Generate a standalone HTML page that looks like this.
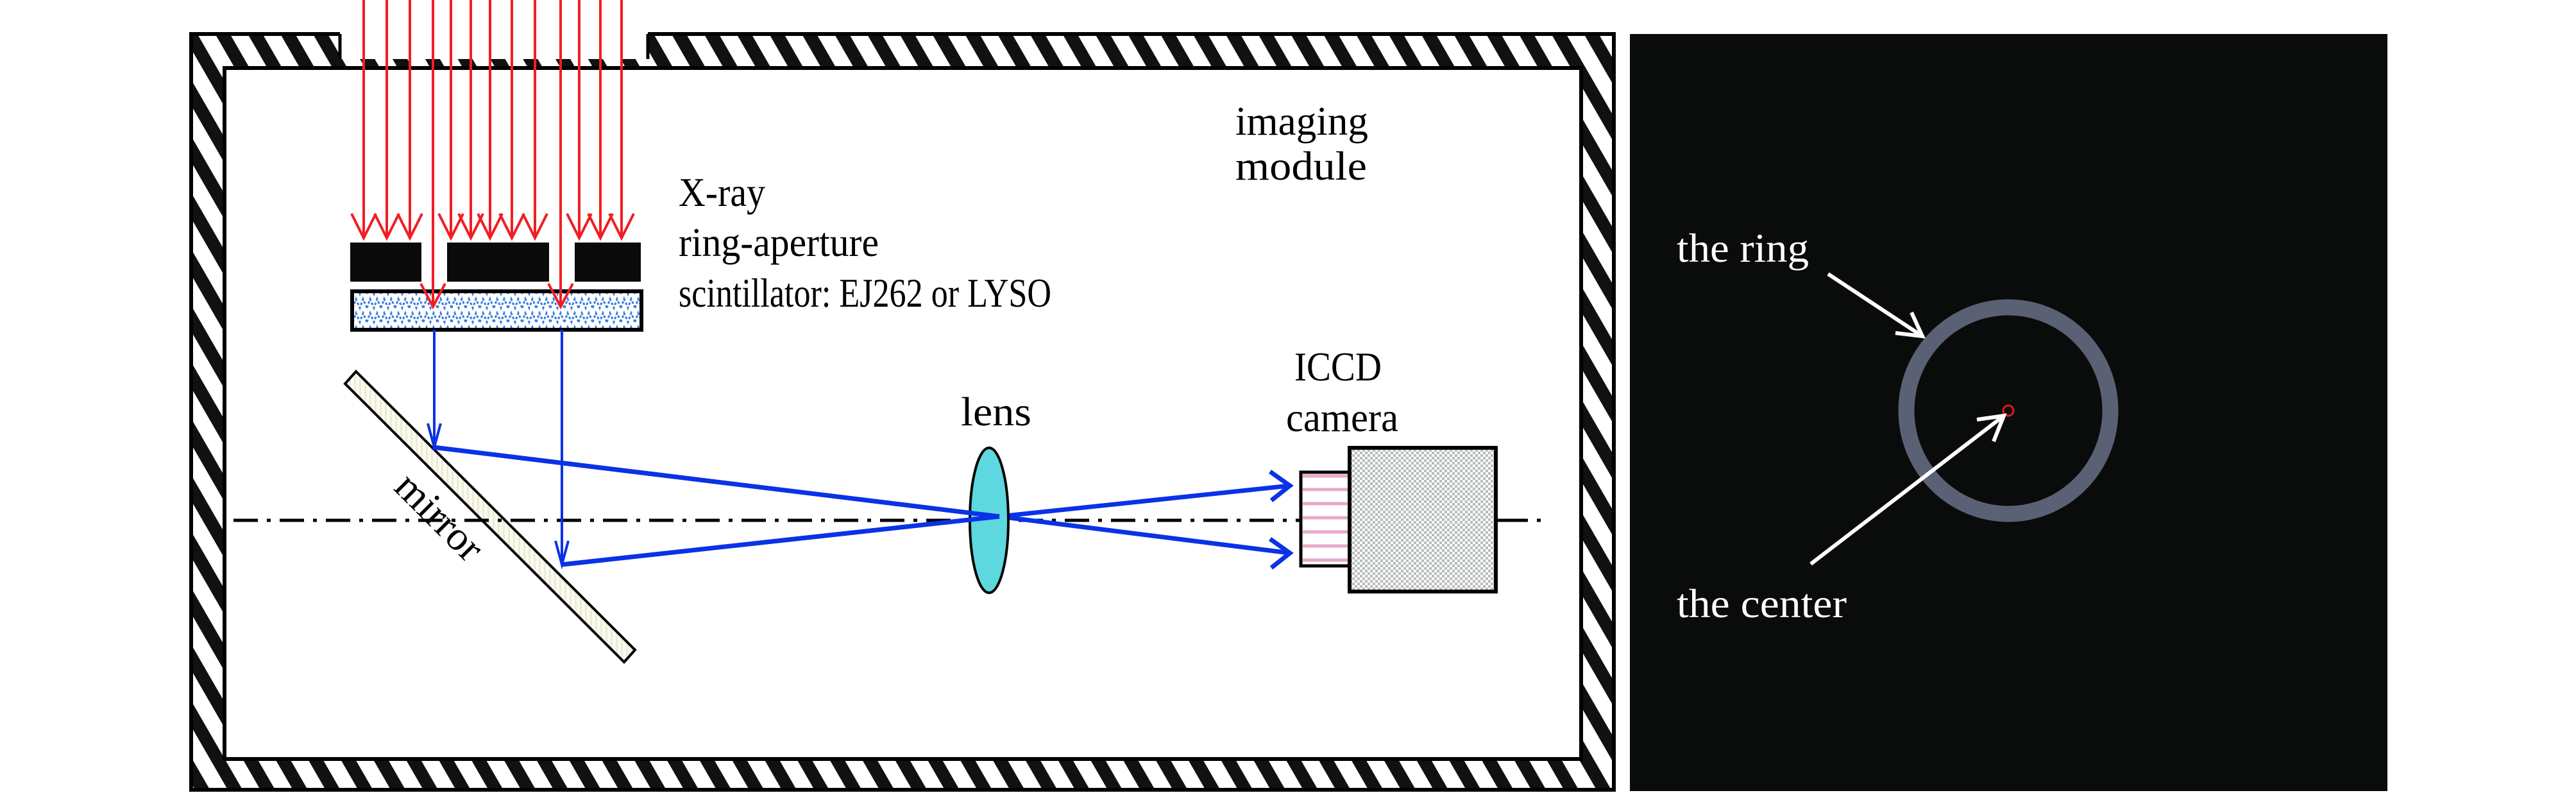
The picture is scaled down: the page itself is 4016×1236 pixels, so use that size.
<!DOCTYPE html>
<html><head><meta charset="utf-8"><style>
html,body{margin:0;padding:0;background:#fff}
svg{display:block}
</style></head><body>
<svg width="4016" height="1236" viewBox="0 0 4016 1236" xmlns="http://www.w3.org/2000/svg">
<defs>
<pattern id="hatch" width="44" height="44" patternUnits="userSpaceOnUse" patternTransform="rotate(-30)">
<rect width="44" height="44" fill="#fff"/>
<rect x="0" y="0" width="20" height="44" fill="#111"/>
</pattern>
<pattern id="scint" width="22" height="22" patternUnits="userSpaceOnUse">
<rect width="22" height="22" fill="#fff"/>
<path d="M0 18 L5 4 L11 18 L16 4 L22 18" stroke="#3a7ee0" stroke-width="3" fill="none" stroke-dasharray="4 3"/>
</pattern>
<pattern id="check" width="8" height="8" patternUnits="userSpaceOnUse">
<rect width="8" height="8" fill="#fff"/>
<rect width="4" height="4" fill="#b8bdbb"/><rect x="4" y="4" width="4" height="4" fill="#b8bdbb"/>
</pattern>
<pattern id="mir" width="8" height="8" patternUnits="userSpaceOnUse">
<rect width="8" height="8" fill="#fafaf0"/><rect width="3" height="8" fill="#ecebd8"/>
</pattern>
</defs>
<!-- frame -->
<rect x="298" y="53" width="2218" height="1178" fill="url(#hatch)" stroke="#000" stroke-width="6"/>
<rect x="530" y="40" width="480" height="52" fill="#fff"/>
<line x1="295" y1="53" x2="530" y2="53" stroke="#000" stroke-width="6"/>
<line x1="1010" y1="53" x2="2519" y2="53" stroke="#000" stroke-width="6"/>
<line x1="530" y1="53" x2="530" y2="92" stroke="#000" stroke-width="5"/>
<line x1="1010" y1="53" x2="1010" y2="92" stroke="#000" stroke-width="5"/>
<rect x="350" y="106" width="2115" height="1077" fill="#fff" stroke="#000" stroke-width="6"/>
<!-- aperture -->
<rect x="546" y="378" width="111" height="61" fill="#0a0a0a"/>
<rect x="697" y="378" width="159" height="61" fill="#0a0a0a"/>
<rect x="896" y="378" width="103" height="61" fill="#0a0a0a"/>
<rect x="549" y="454" width="451" height="60" fill="url(#scint)" stroke="#000" stroke-width="6"/>
<!-- red arrows -->
<g stroke="#f01e23" stroke-width="4" fill="none">
<path d="M567 0V371M603 0V371M639 0V371M703 0V371M734 0V371M764 0V371M798 0V371M834 0V371M903 0V371M936 0V371M969 0V371M675 0V478M874 0V478"/>
<path d="M548 333L567 371L586 333M584 333L603 371L622 333M620 333L639 371L658 333M684 333L703 371L722 333M715 333L734 371L753 333M745 333L764 371L783 333M779 333L798 371L817 333M815 333L834 371L853 333M884 333L903 371L922 333M917 333L936 371L955 333M950 333L969 371L988 333M656 442L675 478L694 442M855 442L874 478L893 442"/>
</g>
<!-- mirror -->
<polygon points="555,579 538,598 973,1032 990,1013" fill="url(#mir)" stroke="#000" stroke-width="4"/>
<!-- axis -->
<line x1="364" y1="811" x2="2026" y2="811" stroke="#000" stroke-width="5" stroke-dasharray="38 14 6 14"/>
<line x1="2334" y1="811" x2="2415" y2="811" stroke="#000" stroke-width="5" stroke-dasharray="48 14 6 14"/>
<!-- blue rays -->
<g stroke="#0a32e6" fill="none">
<path d="M677 514V697M876 514V880" stroke-width="4"/>
<path d="M667 660L677 697L687 660M866 843L876 880L886 843" stroke-width="4"/>
<path d="M675 697L1558 805L2011 757M876 880L1558 805L2011 862" stroke-width="7"/>
<path d="M1980 735L2011 757L1982 780M1980 840L2011 862L1982 885" stroke-width="7"/>
</g>
<!-- lens -->
<ellipse cx="1542" cy="811" rx="30" ry="113" fill="#5cd8de" stroke="#000" stroke-width="4"/>
<path d="M675 697L1558 805M876 880L1558 805" stroke="#0a32e6" stroke-width="7"/>
<!-- camera -->
<rect x="2028" y="736" width="76" height="146" fill="#fff" stroke="#000" stroke-width="5"/>
<g stroke="#e8a8c8" stroke-width="5"><path d="M2031 742H2102M2031 763H2102M2031 785H2102M2031 807H2102M2031 829H2102M2031 851H2102M2031 873H2102"/></g>
<rect x="2104" y="698" width="228" height="224" fill="url(#check)" stroke="#000" stroke-width="6"/>
<!-- labels -->
<g font-family="Liberation Serif, serif" font-size="64" fill="#000" lengthAdjust="spacingAndGlyphs">
<text x="1058" y="321" textLength="135" lengthAdjust="spacingAndGlyphs">X-ray</text>
<text x="1058" y="399" textLength="312" lengthAdjust="spacingAndGlyphs">ring-aperture</text>
<text x="1058" y="478" textLength="581" lengthAdjust="spacingAndGlyphs">scintillator: EJ262 or LYSO</text>
<text x="1926" y="210" textLength="207" lengthAdjust="spacingAndGlyphs">imaging</text>
<text x="1926" y="280" textLength="205" lengthAdjust="spacingAndGlyphs">module</text>
<text x="1498" y="663" textLength="110" lengthAdjust="spacingAndGlyphs">lens</text>
<text x="2018" y="593" textLength="136" lengthAdjust="spacingAndGlyphs">ICCD</text>
<text x="2005" y="672" textLength="175" lengthAdjust="spacingAndGlyphs">camera</text>
<text transform="translate(612,762) rotate(45)" textLength="165" lengthAdjust="spacingAndGlyphs">mirror</text>
</g>
<!-- right panel -->
<rect x="2541" y="53" width="1181" height="1180" fill="#0a0b0b"/>
<ellipse cx="3131" cy="640" rx="159" ry="161" fill="none" stroke="#5b6174" stroke-width="25"/>
<circle cx="3131" cy="640" r="8" fill="none" stroke="#e01818" stroke-width="3"/>
<g stroke="#fff" stroke-width="6" fill="none">
<path d="M2850 427L2997 524M2955 519L2997 524L2980 487"/>
<path d="M2823 879L3124 648M3082 654L3124 648L3108 688"/>
</g>
<g font-family="Liberation Serif, serif" font-size="64" fill="#fff">
<text x="2614" y="408" textLength="206" lengthAdjust="spacingAndGlyphs">the ring</text>
<text x="2614" y="962" textLength="265" lengthAdjust="spacingAndGlyphs">the center</text>
</g>
</svg>
</body></html>
